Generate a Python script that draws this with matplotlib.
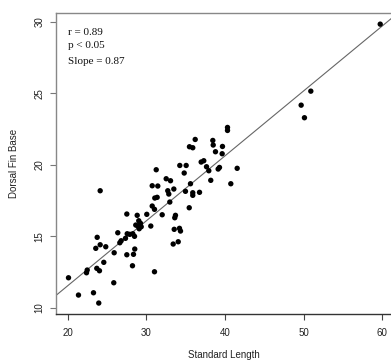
import matplotlib
matplotlib.use("Agg")
import matplotlib.pyplot as plt
import numpy as np

standard_length = [
    59.75, 50.92, 49.69, 50.11, 40.32, 40.32, 36.21, 38.45, 38.50, 35.48,
    35.90, 39.68, 38.79, 39.64, 31.25, 34.25, 35.06, 34.81, 36.97, 37.30,
    37.65, 37.94, 39.13, 39.30, 41.55, 38.19, 40.74, 32.52, 33.07, 30.74,
    31.45, 33.49, 32.72, 32.85, 35.61, 34.97, 35.90, 35.90, 36.76, 31.07,
    31.37, 32.98, 30.74, 31.03, 35.45, 32.01, 33.70, 33.61, 24.12, 30.05,
    28.83, 27.51, 29.03, 29.25, 28.91, 29.34, 29.08, 28.65, 30.56, 28.27,
    28.49, 27.89, 27.56, 26.36, 26.79, 26.62, 27.34, 25.90, 27.51, 28.36,
    28.52, 28.23, 31.03, 23.74, 23.56, 24.12, 24.83, 24.58, 23.69, 24.03,
    22.47, 22.38, 20.09, 25.85, 21.36, 23.27, 23.94, 34.21, 34.05, 33.41,
    33.54, 34.34,
]
dorsal_fin_base = [
    29.85, 25.16, 24.18, 23.30, 22.62, 22.41, 21.78, 21.71, 21.39, 21.27,
    21.20, 21.29, 20.92, 20.78, 19.66, 19.96, 19.96, 19.43, 20.20, 20.29,
    19.87, 19.59, 19.71, 19.82, 19.76, 18.92, 18.68, 19.03, 18.89, 18.54,
    18.52, 18.31, 18.19, 17.96, 18.68, 18.15, 18.05, 17.87, 18.08, 17.68,
    17.73, 17.40, 17.12, 16.89, 17.00, 16.51, 16.47, 16.30, 18.19, 16.54,
    16.47, 16.56, 16.09, 15.91, 15.72, 15.67, 15.53, 15.79, 15.72, 15.18,
    15.00, 15.14, 15.18, 15.25, 14.69, 14.55, 14.86, 13.85, 13.71, 13.74,
    14.11, 12.94, 12.52, 14.93, 14.16, 14.41, 14.27, 13.18, 12.76, 12.59,
    12.64, 12.45, 12.10, 11.75, 10.89, 11.05, 10.33, 15.56, 14.62, 14.46,
    15.49, 15.37,
]
fit_intercept = 2.46
fit_slope = 0.4543

x_ticks = [20, 30, 40, 50, 60]
y_ticks = [10, 15, 20, 25, 30]
stats_lines = ["r = 0.89", "p < 0.05", "Slope = 0.87"]

W, H = 391, 364
fig = plt.figure(figsize=(W / 100, H / 100), dpi=100)
ax = fig.add_axes([56 / W, (H - 314.2) / H, 336.8 / W, 301.2 / H])

ax.scatter(standard_length, dorsal_fin_base, s=15, color="black",
           edgecolors="none", zorder=3)
ax.axline((0, fit_intercept), slope=fit_slope, color="#666666", lw=0.8, zorder=2)

ax.set_xlim(18.5, 61.35)
ax.set_ylim(9.55, 30.63)
ax.set_xticks(x_ticks)
ax.set_yticks(y_ticks)
ax.set_xticklabels([str(t) for t in x_ticks], family="Liberation Sans", fontsize=7)
ax.set_yticklabels([str(t) for t in y_ticks], family="Liberation Sans", fontsize=7,
                   rotation=90, va="center")
ax.tick_params(axis="x", length=4.3, width=0.8, color="#444444", pad=5.5,
               labelcolor="#222222")
ax.tick_params(axis="y", length=4.3, width=0.8, color="#777777", pad=4,
               labelcolor="#222222")

for side in ["left", "top", "right"]:
    ax.spines[side].set_color("#888888")
    ax.spines[side].set_linewidth(1.0)
ax.spines["bottom"].set_color("#333333")
ax.spines["bottom"].set_linewidth(1.0)

ys = [32.7, 46.0, 62.0]
for txt, yp in zip(stats_lines, ys):
    fig.text(68.5 / W, (H - yp) / H, txt, family="Liberation Serif", fontsize=8,
             ha="left", va="center", color="#111111")

fig.text(224 / W, (H - 355) / H, "Standard Length", family="Liberation Sans",
         fontsize=7, ha="center", va="center", color="#222222")
fig.text(14.3 / W, (H - 163) / H, "Dorsal Fin Base", family="Liberation Sans",
         fontsize=7, ha="center", va="center", rotation=90, color="#222222")

fig.savefig("out.png", dpi=100)
